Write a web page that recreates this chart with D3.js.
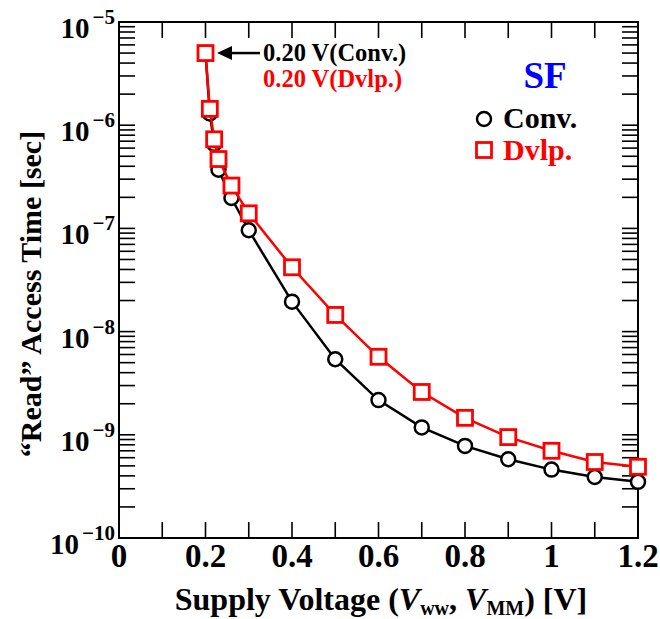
<!DOCTYPE html>
<html><head><meta charset="utf-8">
<script src="https://cdn.jsdelivr.net/npm/d3@7"></script>
<style>body{margin:0;background:#fff}svg{display:block}text{font-family:"Liberation Serif","Times New Roman",serif;font-weight:bold}</style>
</head><body><svg id="c" width="660" height="619"></svg>
<script>
const convV = [0.20,0.21,0.22,0.23,0.26,0.30,0.4,0.5,0.6,0.7,0.8,0.9,1.0,1.1,1.2];
const convT = [5.0e-6,1.3e-6,6.6e-7,3.7e-7,1.97e-7,9.6e-8,1.95e-8,5.4e-9,2.17e-9,1.18e-9,7.8e-10,5.8e-10,4.6e-10,3.9e-10,3.5e-10];
const dvlpV = [0.20,0.21,0.22,0.23,0.26,0.30,0.4,0.5,0.6,0.7,0.8,0.9,1.0,1.1,1.2];
const dvlpT = [5.0e-6,1.44e-6,7.3e-7,4.7e-7,2.6e-7,1.4e-7,4.2e-8,1.45e-8,5.7e-9,2.6e-9,1.46e-9,9.5e-10,7.0e-10,5.45e-10,4.9e-10];
const xTickLabels = ["0","0.2","0.4","0.6","0.8","1","1.2"];
const yDecades = [-5,-6,-7,-8,-9,-10];

const svg = d3.select("#c");
const L=119,R=638,T=22,B=538;
const x = d3.scaleLinear().domain([0,1.2]).range([L,R]);
const y = d3.scaleLog().domain([1e-10,1e-5]).range([B,T]);

const tickLen=16;
const yt=[];
for(let e=-10;e<-5;e++){for(let m=1;m<10;m++){yt.push(m*Math.pow(10,e));}}
yt.forEach(v=>{
  svg.append("line").attr("x1",L).attr("x2",L+tickLen).attr("y1",y(v)).attr("y2",y(v)).attr("stroke","#000").attr("stroke-width",1.6);
  svg.append("line").attr("x1",R).attr("x2",R-tickLen).attr("y1",y(v)).attr("y2",y(v)).attr("stroke","#000").attr("stroke-width",1.6);
});
d3.range(0,1.2001,0.1).forEach(v=>{
  svg.append("line").attr("x1",x(v)).attr("x2",x(v)).attr("y1",B).attr("y2",B-tickLen).attr("stroke","#000").attr("stroke-width",1.6);
  svg.append("line").attr("x1",x(v)).attr("x2",x(v)).attr("y1",T).attr("y2",T+tickLen).attr("stroke","#000").attr("stroke-width",1.6);
});
svg.append("rect").attr("x",L).attr("y",T).attr("width",R-L).attr("height",B-T).attr("fill","none").attr("stroke","#000").attr("stroke-width",2);

xTickLabels.forEach((t,i)=>{
  svg.append("text").attr("x",x(i*0.2)).attr("y",567).attr("text-anchor","middle").attr("font-size",33).text(t);
});
yDecades.forEach(e=>{
  const t=svg.append("text").attr("x",115).attr("y",y(Math.pow(10,e))+16).attr("text-anchor","end").attr("font-size",29);
  t.append("tspan").text("10");
  t.append("tspan").attr("dx",3).attr("dy",-14).attr("font-size",21).text("\u2212"+(-e));
});

const xt=svg.append("text").attr("x",381).attr("y",610).attr("text-anchor","middle").attr("font-size",32);
xt.append("tspan").text("Supply Voltage (");
xt.append("tspan").attr("font-style","italic").text("V");
xt.append("tspan").attr("font-size",20).attr("dy",5).text("ww");
xt.append("tspan").attr("dy",-5).text(", ");
xt.append("tspan").attr("font-style","italic").text("V");
xt.append("tspan").attr("font-size",20).attr("dy",5).text("MM");
xt.append("tspan").attr("dy",-5).text(") [V]");

svg.append("text").attr("transform","translate(41,294) rotate(-90)").attr("text-anchor","middle").attr("font-size",30).text("\u201cRead\u201d Access Time [sec]");

const line=d3.line().x(d=>x(d[0])).y(d=>y(d[1]));
const conv=convV.map((v,i)=>[v,convT[i]]);
const dvlp=dvlpV.map((v,i)=>[v,dvlpT[i]]);
svg.append("path").datum(conv).attr("d",line).attr("fill","none").attr("stroke","#000").attr("stroke-width",2.5);
svg.selectAll("circle.c").data(conv).enter().append("circle").attr("cx",d=>x(d[0])).attr("cy",d=>y(d[1])).attr("r",7).attr("fill","#fff").attr("stroke","#000").attr("stroke-width",2.5);
svg.append("path").datum(dvlp).attr("d",line).attr("fill","none").attr("stroke","#ff0000").attr("stroke-width",2.5);
const s=15;
svg.selectAll("rect.d").data(dvlp).enter().append("rect").attr("x",d=>x(d[0])-s/2).attr("y",d=>y(d[1])-s/2).attr("width",s).attr("height",s).attr("fill","#fff").attr("stroke","#ff0000").attr("stroke-width",2.8);

const ay=y(dvlpT[0]);
svg.append("line").attr("x1",260).attr("x2",228).attr("y1",ay).attr("y2",ay).attr("stroke","#000").attr("stroke-width",2.5);
svg.append("path").attr("d",`M${217},${ay} L${232},${ay-7} L${232},${ay+7} Z`).attr("fill","#000");
svg.append("text").attr("x",263).attr("y",61).attr("font-size",24.5).attr("fill","#000").text("0.20 V(Conv.)");
svg.append("text").attr("x",263).attr("y",87).attr("font-size",24.5).attr("fill","#ff0000").text("0.20 V(Dvlp.)");

svg.append("text").attr("x",545).attr("y",88).attr("text-anchor","middle").attr("font-size",37).attr("fill","#0000ff").text("SF");
svg.append("circle").attr("cx",484).attr("cy",119).attr("r",7).attr("fill","#fff").attr("stroke","#000").attr("stroke-width",2.5);
svg.append("text").attr("x",503).attr("y",128).attr("font-size",30).text("Conv.");
svg.append("rect").attr("x",484-s/2).attr("y",150-s/2).attr("width",s).attr("height",s).attr("fill","#fff").attr("stroke","#ff0000").attr("stroke-width",2.8);
svg.append("text").attr("x",503).attr("y",160).attr("font-size",30).attr("fill","#ff0000").text("Dvlp.");
</script></body></html>
